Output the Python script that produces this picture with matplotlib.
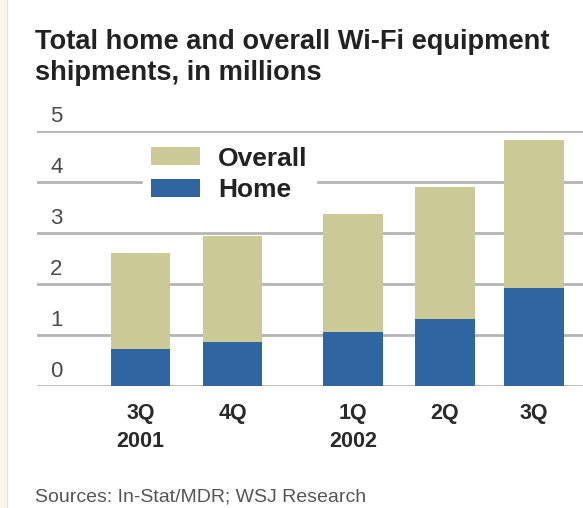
#!/usr/bin/env python

import matplotlib.pyplot as plt
from matplotlib.patches import Rectangle

# Wi-Fi equipment shipments, millions
quarters = ["3Q\n2001", "4Q", "1Q\n2002", "2Q", "3Q"]
overall = [2.60, 2.94, 3.37, 3.91, 4.82]
home = [0.72, 0.86, 1.05, 1.31, 1.93]
yticks = [0, 1, 2, 3, 4, 5]

# bar slots: a wider gap between the two years
xpos = [0, 1, 2.31, 3.31, 4.28]

khaki = "#cbc996"
blue = "#2f65a0"
grid = "#b4b4b4"

plt.rcParams["font.family"] = ["Liberation Sans", "DejaVu Sans"]

fig = plt.figure(figsize=(5.83, 5.08), dpi=100)

# pale strip down the left edge
fig.patches.append(Rectangle((0, 0), 7 / 583, 1, transform=fig.transFigure,
                             facecolor="#f8f6ea", edgecolor="none", zorder=0))
fig.lines.append(plt.Line2D([7 / 583, 7 / 583], [0, 1], transform=fig.transFigure,
                            color="#e6e3d0", lw=1))

ax = fig.add_axes([37 / 583, 122 / 508, 546 / 583, 255 / 508])
ax.set_xlim(-1.125, 4.81)
ax.set_ylim(0, 5)

for v in yticks:
    ax.axhline(v, color=grid, lw=2, zorder=0)
    ax.text(0.024, v + 0.08, str(v), transform=ax.get_yaxis_transform(),
            ha="left", va="bottom", fontsize=16, color="#4a4a4a")

ax.bar(xpos, overall, width=0.65, color=khaki, label="Overall", zorder=2)
ax.bar(xpos, home, width=0.65, color=blue, label="Home", zorder=3)

ax.set_xticks(xpos)
ax.set_xticklabels(quarters, fontsize=15.5, fontweight="bold", color="#2a2a2a",
                   linespacing=1.45)
ax.tick_params(axis="x", length=0, pad=12)
ax.set_yticks([])
for s in ax.spines.values():
    s.set_visible(False)

ax.legend(loc="upper left", bbox_to_anchor=(0.17, 1.022), frameon=True,
          facecolor="white", edgecolor="white", framealpha=1,
          prop={"size": 19, "weight": "bold"}, labelcolor="#222222",
          handlelength=1.85, handleheight=0.65, handletextpad=0.7,
          labelspacing=0.3, borderpad=0.3, fancybox=False)

fig.text(35 / 583, 1 - 29 / 508, "Total home and overall Wi-Fi equipment\nshipments, in millions",
         ha="left", va="top", fontsize=19.6, fontweight="bold", color="#222222",
         linespacing=1.25)
fig.text(35 / 583, 1 - 502 / 508, "Sources: In-Stat/MDR; WSJ Research",
         ha="left", va="baseline", fontsize=14, color="#555555")

fig.savefig("out.png", dpi=100, facecolor="white")
plt.close(fig)
